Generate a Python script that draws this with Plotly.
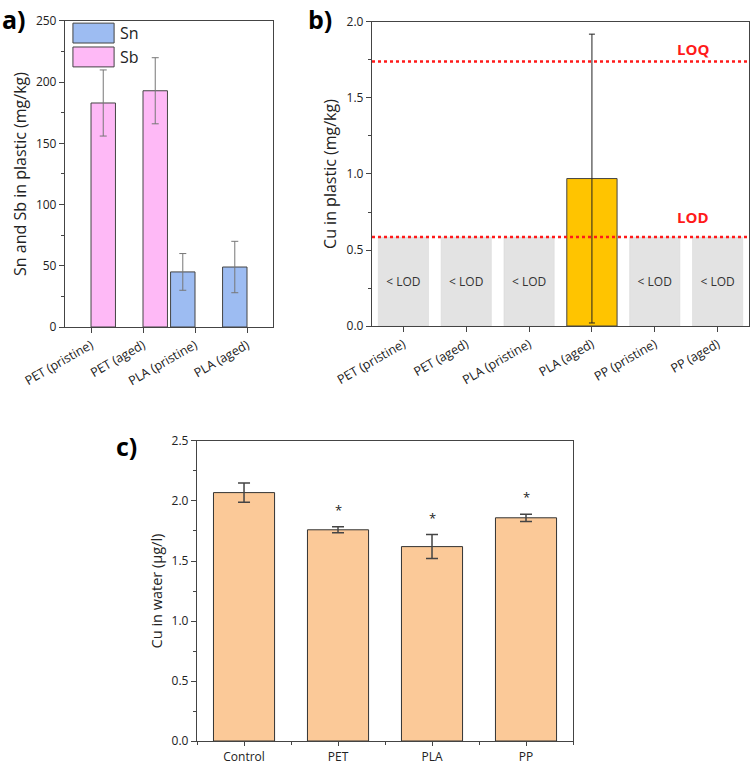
import plotly.graph_objects as go

# ---------------- data ----------------
# Panel a
cats_a = ["PET (pristine)", "PET (aged)", "PLA (pristine)", "PLA (aged)"]
sn_vals = [None, None, 45, 49]
sn_err = [None, None, 15, 21]
sb_vals = [183, 193, None, None]
sb_err = [27, 27, None, None]

# Panel b
cats_b = ["PET (pristine)", "PET (aged)", "PLA (pristine)", "PLA (aged)", "PP (pristine)", "PP (aged)"]
cu_plastic = [None, None, None, 0.97, None, None]   # None = below LOD
cu_plastic_err = [None, None, None, 0.95, None, None]
LOD = 0.585
LOQ = 1.74

# Panel c
cats_c = ["Control", "PET", "PLA", "PP"]
cu_water = [2.07, 1.76, 1.62, 1.86]
cu_water_err = [0.08, 0.025, 0.10, 0.03]
signif = ["", "*", "*", "*"]

# ---------------- style ----------------
FONT = "Open Sans"
AX = "#444444"
C_SN = "#9dbcf2"
C_SB = "#feb9f6"
C_CU = "#ffc400"
C_GREY = "#e3e3e3"
C_W = "#fbc998"

fig = go.Figure()

# Panel a
fig.add_trace(go.Bar(x=cats_a, y=sn_vals, name="Sn", width=0.47, offset=-0.47,
                     marker=dict(color=C_SN, line=dict(color=AX, width=1)),
                     error_y=dict(type="data", array=sn_err, color="#777777", thickness=1, width=3.5),
                     xaxis="x", yaxis="y", showlegend=False))
fig.add_trace(go.Bar(x=cats_a, y=sb_vals, name="Sb", width=0.47, offset=0,
                     marker=dict(color=C_SB, line=dict(color=AX, width=1)),
                     error_y=dict(type="data", array=sb_err, color="#777777", thickness=1, width=3.5),
                     xaxis="x", yaxis="y", showlegend=False))

# Panel b
below = [LOD if v is None else None for v in cu_plastic]
fig.add_trace(go.Bar(x=cats_b, y=below, width=0.8,
                     marker=dict(color=C_GREY, line=dict(color="#d6d6d6", width=0.5)),
                     text=["< LOD" if v is not None else "" for v in below],
                     textposition="inside", insidetextanchor="middle",
                     textfont=dict(family=FONT, size=12, color="#333333"),
                     xaxis="x2", yaxis="y2", showlegend=False))
fig.add_trace(go.Bar(x=cats_b, y=cu_plastic, width=0.8,
                     marker=dict(color=C_CU, line=dict(color=AX, width=1)),
                     error_y=dict(type="data", array=cu_plastic_err, color="#222222", thickness=1, width=3),
                     xaxis="x2", yaxis="y2", showlegend=False))

# Panel c
xc = list(range(len(cats_c)))
fig.add_trace(go.Bar(x=xc, y=cu_water, width=0.65,
                     marker=dict(color=C_W, line=dict(color="#333333", width=1)),
                     error_y=dict(type="data", array=cu_water_err, color="#444444", thickness=1.5, width=6),
                     xaxis="x3", yaxis="y3", showlegend=False))

shapes = []
annotations = []

# LOD / LOQ lines
for val, lab, ypos in [(LOQ, "LOQ", 1.82), (LOD, "LOD", 0.72)]:
    shapes.append(dict(type="line", xref="x2 domain", yref="y2", x0=0, x1=1, y0=val, y1=val,
                       line=dict(color="#ff1a1a", width=2.5, dash="dot"), layer="above"))
    annotations.append(dict(xref="x2 domain", yref="y2", x=0.90, y=ypos, text="<b>%s</b>" % lab,
                            showarrow=False, font=dict(family=FONT, size=15, color="#ff1a1a")))

# Legend of panel a (boxes)
for lab, col, y0, y1 in [("Sn", C_SN, 0.928, 0.993), ("Sb", C_SB, 0.850, 0.915)]:
    shapes.append(dict(type="rect", xref="x domain", yref="y domain", x0=0.038, x1=0.236, y0=y0, y1=y1,
                       fillcolor=col, line=dict(color=AX, width=1)))
    annotations.append(dict(xref="x domain", yref="y domain", x=0.255, y=(y0 + y1) / 2, text=lab,
                            xanchor="left", yanchor="middle", showarrow=False,
                            font=dict(family=FONT, size=16, color="#222222")))

# Significance stars
for i, s in enumerate(signif):
    if s:
        annotations.append(dict(xref="x3", yref="y3", x=xc[i], y=cu_water[i] + cu_water_err[i] + 0.05,
                                text=s, showarrow=False, yanchor="bottom",
                                font=dict(family=FONT, size=13, color="#222222")))

# Panel labels
for t, x, y in [("a)", 0.0, 1.0), ("b)", 0.408, 1.0), ("c)", 0.152, 0.443)]:
    annotations.append(dict(xref="paper", yref="paper", x=x, y=y, text="<b>%s</b>" % t,
                            xanchor="left", yanchor="top", showarrow=False,
                            font=dict(family=FONT, size=25, color="#000000")))

tickfont = dict(family=FONT, size=12, color="#222222")

def yax(domain, rng, dtick, title, minor_dtick, anchor, tsize):
    return dict(domain=domain, range=rng, dtick=dtick, showgrid=False, zeroline=False,
                showline=True, linecolor=AX, linewidth=1.3, mirror=True, automargin=False,
                ticks="outside", ticklen=5, tickwidth=1.2, tickcolor=AX,
                minor=dict(dtick=minor_dtick, ticks="outside", ticklen=3, tickcolor=AX, tickwidth=1),
                tickfont=tickfont,
                title=dict(text=title, font=dict(family=FONT, size=tsize, color="#222222"), standoff=5),
                anchor=anchor)

xcommon = dict(showgrid=False, zeroline=False, showline=True, linecolor=AX, linewidth=1.3,
               mirror=True, ticks="outside", tickwidth=1.2, tickcolor=AX, automargin=False)

fig.update_layout(
    width=750, height=766, margin=dict(l=0, r=0, t=0, b=0),
    paper_bgcolor="white", plot_bgcolor="white", barmode="overlay",
    font=dict(family=FONT, color="#222222"),
    xaxis=dict(domain=[0.0867, 0.364], anchor="y", type="category", range=[-0.5, 3.5], ticklen=5,
               tickangle=-30, tickfont=dict(family=FONT, size=12.5, color="#222222"), **xcommon),
    yaxis=yax([0.5731, 0.9726], [0, 250], 50, "Sn and Sb in plastic (mg/kg)", 25, "x", 16),
    xaxis2=dict(domain=[0.496, 0.9987], anchor="y2", type="category", range=[-0.5, 5.5], ticklen=5,
                tickangle=-30, tickfont=dict(family=FONT, size=12.5, color="#222222"), **xcommon),
    yaxis2=yax([0.5744, 0.9713], [0, 2.0], 0.5, "Cu in plastic (mg/kg)", 0.25, "x2", 16),
    xaxis3=dict(domain=[0.2627, 0.764], anchor="y3", range=[-0.5, 3.5], ticklen=4,
                tickvals=xc, ticktext=cats_c, tickangle=0,
                minor=dict(tick0=0.5, dtick=1, ticks="outside", ticklen=3, tickcolor=AX, tickwidth=1),
                tickfont=tickfont, **xcommon),
    yaxis3=yax([0.0326, 0.4243], [0, 2.5], 0.5, "Cu in water (µg/l)", 0.25, "x3", 14.5),
    shapes=shapes, annotations=annotations,
)
fig.update_yaxes(tickformat=".1f", selector=dict(anchor="x2"))
fig.update_yaxes(tickformat=".1f", selector=dict(anchor="x3"))

fig.write_html("out.html")
